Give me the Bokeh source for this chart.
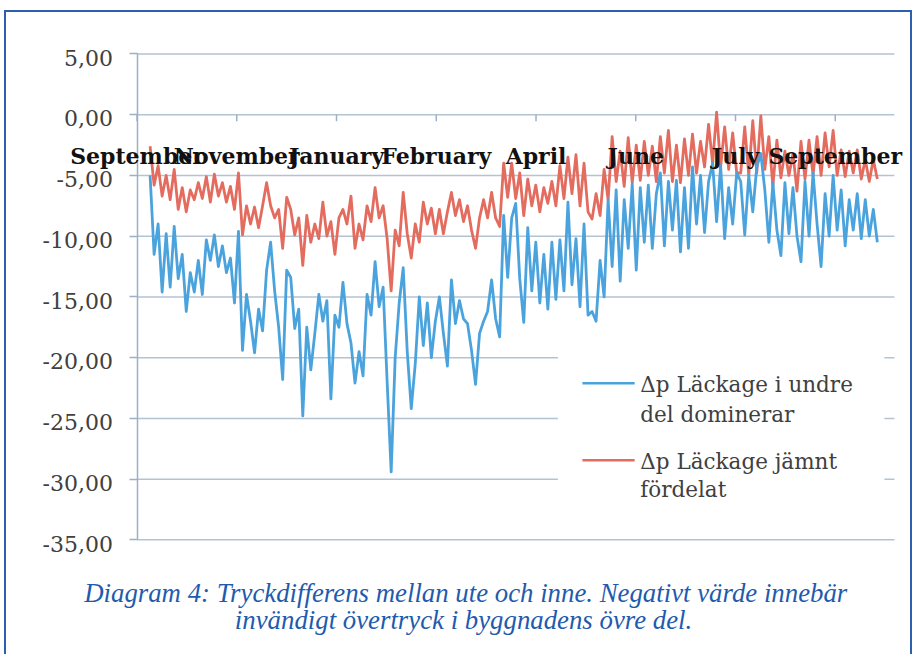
from bokeh.plotting import figure
from bokeh.models import Range1d, Label, BoxAnnotation, FixedTicker
from bokeh.embed import file_html
from bokeh.resources import INLINE

# ---- data ----
months = ["September", "November", "January", "February", "April", "June", "July", "September"]
month_pos = [-3.25, 21.575, 46.4, 71.225, 96.05, 120.875, 145.7, 170.525]

ytick_vals = [5, 0, -5, -10, -15, -20, -25, -30, -35]
ytick_labels = ["5,00", "0,00", "-5,00", "-10,00", "-15,00", "-20,00", "-25,00", "-30,00", "-35,00"]

series_names = ["\u0394p L\u00e4ckage i undre\ndel dominerar", "\u0394p L\u00e4ckage j\u00e4mnt\nf\u00f6rdelat"]

blue_vals = [
    -5.0, -11.5, -9.0, -14.6, -9.8, -14.2, -9.2, -13.5, -11.5, -16.2,
    -13.0, -14.6, -12.0, -14.8, -10.3, -12.0, -9.9, -12.5, -10.8, -13.0,
    -11.8, -15.5, -9.6, -19.4, -14.8, -17.0, -19.6, -16.0, -17.8, -12.8,
    -10.5, -14.5, -17.5, -21.8, -12.8,
    -13.4, -17.6, -16.0, -24.8, -17.5, -21.0, -18.0, -14.8, -17.0, -15.3,
    -23.4, -16.5, -17.5, -13.8, -17.2, -18.8, -22.1, -19.5, -21.5, -14.8,
    -16.5, -12.1, -15.8, -14.2, -22.0, -29.4, -20.0, -15.5, -12.6, -19.5,
    -24.2, -20.5, -15.0, -19.0, -15.5, -20.0, -17.0,
    -15.0, -18.0, -20.7, -13.6, -17.2, -15.3, -16.8, -17.2, -19.4, -22.2,
    -18.0, -17.0, -16.2, -13.6, -16.8, -18.3, -8.3, -13.4, -8.5, -7.3,
    -13.5, -17.1, -9.3, -14.5, -10.5, -15.5, -11.5, -16.0, -10.5, -15.2,
    -10.3, -14.5, -7.2, -14.0, -10.2, -15.8, -9.0, -16.5,
    -16.2, -17.0, -12.0, -15.0, -7.0, -12.5, -6.2, -13.7, -7.0, -11.0,
    -5.7, -12.8, -6.0, -10.5, -5.8, -11.0, -6.5, -4.8, -10.8, -5.5,
    -9.5, -5.4, -11.3, -6.0, -11.0, -4.3, -9.0, -5.0, -9.7, -5.5,
    -4.0, -8.8, -4.2, -10.2, -6.0, -9.0, -4.8,
    -5.5, -9.9, -5.0, -8.0, -4.3, -3.2, -6.2, -10.5, -5.6, -9.5,
    -11.6, -5.6, -9.8, -6.0, -10.0, -12.1, -5.5, -10.0, -4.8, -9.0,
    -12.5, -6.5, -10.0, -5.0, -9.5, -6.2, -10.8, -7.0, -9.5, -6.5,
    -10.2, -7.0, -10.0, -7.8, -10.5,
]

red_vals = [
    -2.6, -5.8, -4.2, -6.7, -5.0, -7.0, -4.5, -7.8, -6.0, -8.0,
    -6.2, -7.0, -5.6, -6.9, -5.1, -7.2, -4.9, -6.7, -5.6, -7.2,
    -5.9, -7.8, -4.8, -9.9, -7.5, -9.0, -7.6, -9.3, -7.5, -5.6,
    -7.5, -8.5, -7.8, -11.0, -6.8,
    -7.8, -9.9, -8.5, -12.4, -8.3, -10.5, -9.0, -10.2, -7.2, -10.0,
    -8.8, -11.5, -8.5, -7.8, -9.0, -6.7, -11.0, -9.0, -10.3, -7.5,
    -8.8, -6.0, -8.5, -7.5, -10.2, -14.5, -9.5, -10.8, -6.4, -9.8,
    -11.8, -9.0, -10.5, -7.2, -9.0, -7.7, -9.8,
    -7.8, -9.8, -8.0, -6.4, -8.3, -7.0, -8.8, -7.5, -9.5, -11.0,
    -8.5, -7.0, -8.5, -6.4, -8.5, -9.2, -4.0, -6.8, -4.0, -6.9,
    -4.8, -8.3, -5.3, -7.5, -5.8, -8.0, -6.0, -7.3, -5.5, -7.5,
    -4.2, -6.9, -3.5, -6.5, -3.3, -7.5, -4.0, -8.0,
    -8.6, -6.5, -8.3, -4.5, -7.0, -1.8, -5.5, -3.0, -5.9, -1.9,
    -5.6, -2.5, -5.4, -2.2, -5.0, -2.6, -5.5, -1.8, -4.8, -1.3,
    -5.5, -2.5, -5.6, -2.0, -5.0, -1.6, -4.8, -2.2, -4.3, -0.8,
    -4.0, 0.2, -4.3, -1.0, -4.5, -1.5, -4.8,
    -4.8, -1.0, -5.0, -0.5, -4.8, -0.1, -4.5, -1.8, -5.9, -2.1,
    -5.2, -3.0, -5.0, -3.2, -6.3, -2.2, -5.3, -2.1, -5.0, -1.8,
    -5.0, -1.5, -4.3, -1.3, -5.0, -2.9, -5.1, -3.0, -4.8, -2.9,
    -5.3, -3.7, -5.5, -3.7, -5.3,
]

x_idx = list(range(len(blue_vals)))

caption_lines = [
    "Diagram 4: Tryckdifferens mellan ute och inne. Negativt v\u00e4rde inneb\u00e4r",
    "inv\u00e4ndigt \u00f6vertryck i byggnadens \u00f6vre del.",
]

# ---- styling ----
BLUE = "#4BA3DD"
RED = "#E36C5F"
AXIS = "#9DB1C6"
GRID = "#B3C3D4"
TXT = "#404040"
CAP = "#1E5BAE"
FRAME = "#2D5FB0"

X_AXIS_AT = month_pos[0]      # where the value axis crosses
X_END = 185.25                # right end of the plot area

p = figure(width=908, height=644, output_backend="svg", toolbar_location=None,
           x_range=Range1d(-32.75, 190.25), y_range=Range1d(-44.6, 8.41),
           x_axis_location=None,
           min_border_left=12, min_border_right=0, min_border_top=0, min_border_bottom=0)
p.styles = {"margin-left": "4px", "margin-top": "10px",
            "border-top": f"2px solid {FRAME}", "border-left": f"2px solid {FRAME}",
            "border-right": f"2px solid {FRAME}"}
p.outline_line_color = None
p.background_fill_color = "white"
p.border_fill_color = "white"
p.grid.visible = False

# value axis (line + ticks), placed at the crossing point
ax = p.yaxis[0]
ax.fixed_location = X_AXIS_AT
ax.bounds = (min(ytick_vals), max(ytick_vals))
ax.ticker = FixedTicker(ticks=ytick_vals)
ax.major_label_overrides = {v: "" for v in ytick_vals}
ax.major_label_standoff = 0
ax.axis_line_color = AXIS
ax.axis_line_width = 1.5
ax.major_tick_line_color = AXIS
ax.major_tick_line_width = 1.5
ax.major_tick_out = 8
ax.major_tick_in = 0
ax.minor_tick_line_color = None

# horizontal grid lines
p.segment(x0=[X_AXIS_AT] * len(ytick_vals), y0=ytick_vals, x1=[X_END] * len(ytick_vals), y1=ytick_vals,
          line_color=GRID, line_width=1.5, level="underlay")

# value tick labels
for v, s in zip(ytick_vals, ytick_labels):
    p.add_layout(Label(x=X_AXIS_AT - 6.0, y=v - 0.3, text=s, text_align="right", text_baseline="middle",
                       text_font="DejaVu Serif", text_font_size="22px", text_color=TXT))

# category ticks on the zero line
p.segment(x0=month_pos, y0=[0] * len(month_pos), x1=month_pos, y1=[-0.55] * len(month_pos),
          line_color=AXIS, line_width=1.5)

# series
p.line(x_idx, red_vals, line_color=RED, line_width=2.8, line_join="round")
p.line(x_idx, blue_vals, line_color=BLUE, line_width=2.8, line_join="round")

# category labels
for name, xp in zip(months, month_pos):
    p.add_layout(Label(x=xp, y=-3.44, text=name, text_align="center", text_baseline="middle",
                       text_font="DejaVu Serif", text_font_style="bold", text_font_size="22px",
                       text_color="#111111"))

# legend (manual, two-line labels)
p.add_layout(BoxAnnotation(left=101.5, right=182.75, top=-19.6, bottom=-32.3,
                           fill_color="white", fill_alpha=1.0, line_color=None))
p.segment(x0=[107.6, 107.6], y0=[-22.1, -28.45], x1=[120.6, 120.6], y1=[-22.1, -28.45],
          line_color=[BLUE, RED], line_width=2.5, level="overlay")
legend_y = [(-22.23, -24.7), (-28.58, -30.89)]
for name, (y1, y2) in zip(series_names, legend_y):
    l1, l2 = name.split("\n")
    for t, yy in ((l1, y1), (l2, y2)):
        p.add_layout(Label(x=122.0, y=yy, text=t, text_align="left", text_baseline="middle",
                           text_font="DejaVu Serif", text_font_size="21.5px", text_color=TXT))

# caption
for t, xx, yy in zip(caption_lines, (-16.4, 21.1), (-39.36, -41.59)):
    p.add_layout(Label(x=xx, y=yy, text=t, text_align="left", text_baseline="middle",
                       text_font="Liberation Serif", text_font_style="italic", text_font_size="26.8px",
                       text_color=CAP))

open("out.html", "w").write(file_html(p, INLINE))
